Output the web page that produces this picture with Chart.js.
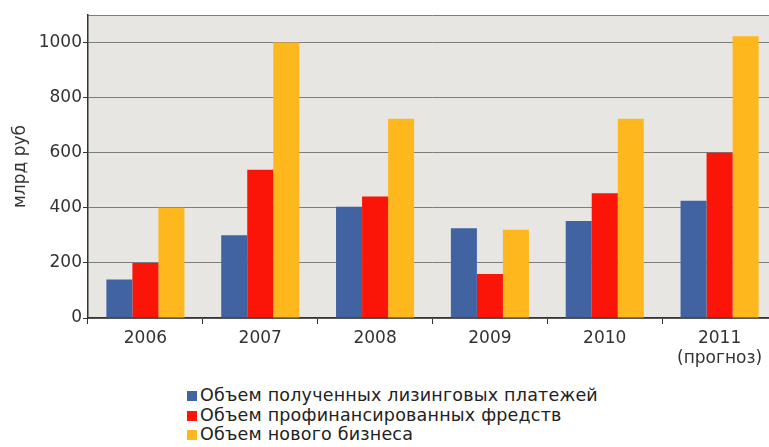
<!DOCTYPE html>
<html>
<head>
<meta charset="utf-8">
<script src="https://cdn.jsdelivr.net/npm/chart.js@4"></script>
<style>
  html, body { margin: 0; padding: 0; background: #fff; overflow: hidden; }
  #wrap { position: relative; width: 769px; height: 447px; overflow: hidden; }
  #box { position: absolute; left: 0; top: 0; width: 790px; height: 372px; }
  #legend { position: absolute; left: 187px; top: 386px; font-family: "DejaVu Sans", sans-serif;
            font-size: 17.5px; color: #222; line-height: 19.5px; letter-spacing: 0.2px; }
  #legend div { white-space: nowrap; }
  #legend span { display: inline-block; width: 10px; height: 10px; margin-right: 3px; }
</style>
</head>
<body>
<div id="wrap">
  <div id="box"><canvas id="chart" width="790" height="372"></canvas></div>
  <div id="legend"></div>
</div>
<script>
// годы и подписи оси
const years = ["2006", "2007", "2008", "2009", "2010", ["2011", "(прогноз)"]];
const seriesNames = [
  "Объем полученных лизинговых платежей",
  "Объем профинансированных фредств",
  "Объем нового бизнеса",
];
// значения, млрд руб
const payments = [140, 300, 404, 326, 352, 426];
const financed = [200, 538, 441, 160, 453, 600];
const newBusiness = [400, 1000, 723, 320, 723, 1023];
const colors = ["#4163a2", "#fb1509", "#ffb71e"];

const font = { family: "DejaVu Sans", size: 17 };

// фон области графика и верхняя линия
const plotBg = {
  id: "plotBg",
  beforeDraw(chart) {
    const { ctx, chartArea: a } = chart;
    ctx.save();
    ctx.fillStyle = "#e8e6e2";
    ctx.fillRect(a.left, a.top, a.right - a.left, a.bottom - a.top);
    ctx.strokeStyle = "#7d7d7d";
    ctx.lineWidth = 1;
    ctx.beginPath();
    ctx.moveTo(a.left, a.top + 0.5);
    ctx.lineTo(a.right, a.top + 0.5);
    ctx.stroke();
    ctx.restore();
  },
};

const chart = new Chart(document.getElementById("chart"), {
  type: "bar",
  data: {
    labels: years,
    datasets: [payments, financed, newBusiness].map((d, i) => ({
      label: seriesNames[i],
      data: d,
      backgroundColor: colors[i],
      categoryPercentage: 0.68,
      barPercentage: 1,
    })),
  },
  options: {
    responsive: false,
    animation: false,
    layout: { padding: { top: 15, right: 13, left: 0, bottom: 0 } },
    plugins: { legend: { display: false }, tooltip: { enabled: false } },
    scales: {
      x: {
        afterFit(s) { s.height = 54; },
        grid: { offset: true, drawOnChartArea: false, drawTicks: true, tickLength: 6, tickColor: "#333" },
        border: { color: "#333", width: 1.5 },
        ticks: { color: "#333", font, padding: 4, maxRotation: 0 },
      },
      y: {
        min: 0,
        max: 1100,
        afterFit(s) { s.width = 88; },
        afterBuildTicks(s) { s.ticks = s.ticks.filter((t) => t.value <= 1000); },
        grid: { color: "#7d7d7d", tickColor: "#333", tickLength: 5 },
        border: { color: "#333", width: 1.5 },
        ticks: { stepSize: 200, color: "#333", font, padding: 1, callback: (v) => String(v) },
        title: { display: true, text: "млрд руб", color: "#333", font, padding: { top: 10, bottom: 0 } },
      },
    },
  },
  plugins: [plotBg],
});

// легенда столбиком, как в оригинале
document.getElementById("legend").innerHTML = chart.data.datasets
  .map((ds) => `<div><span style="background:${ds.backgroundColor}"></span>${ds.label}</div>`)
  .join("");
</script>
</body>
</html>
